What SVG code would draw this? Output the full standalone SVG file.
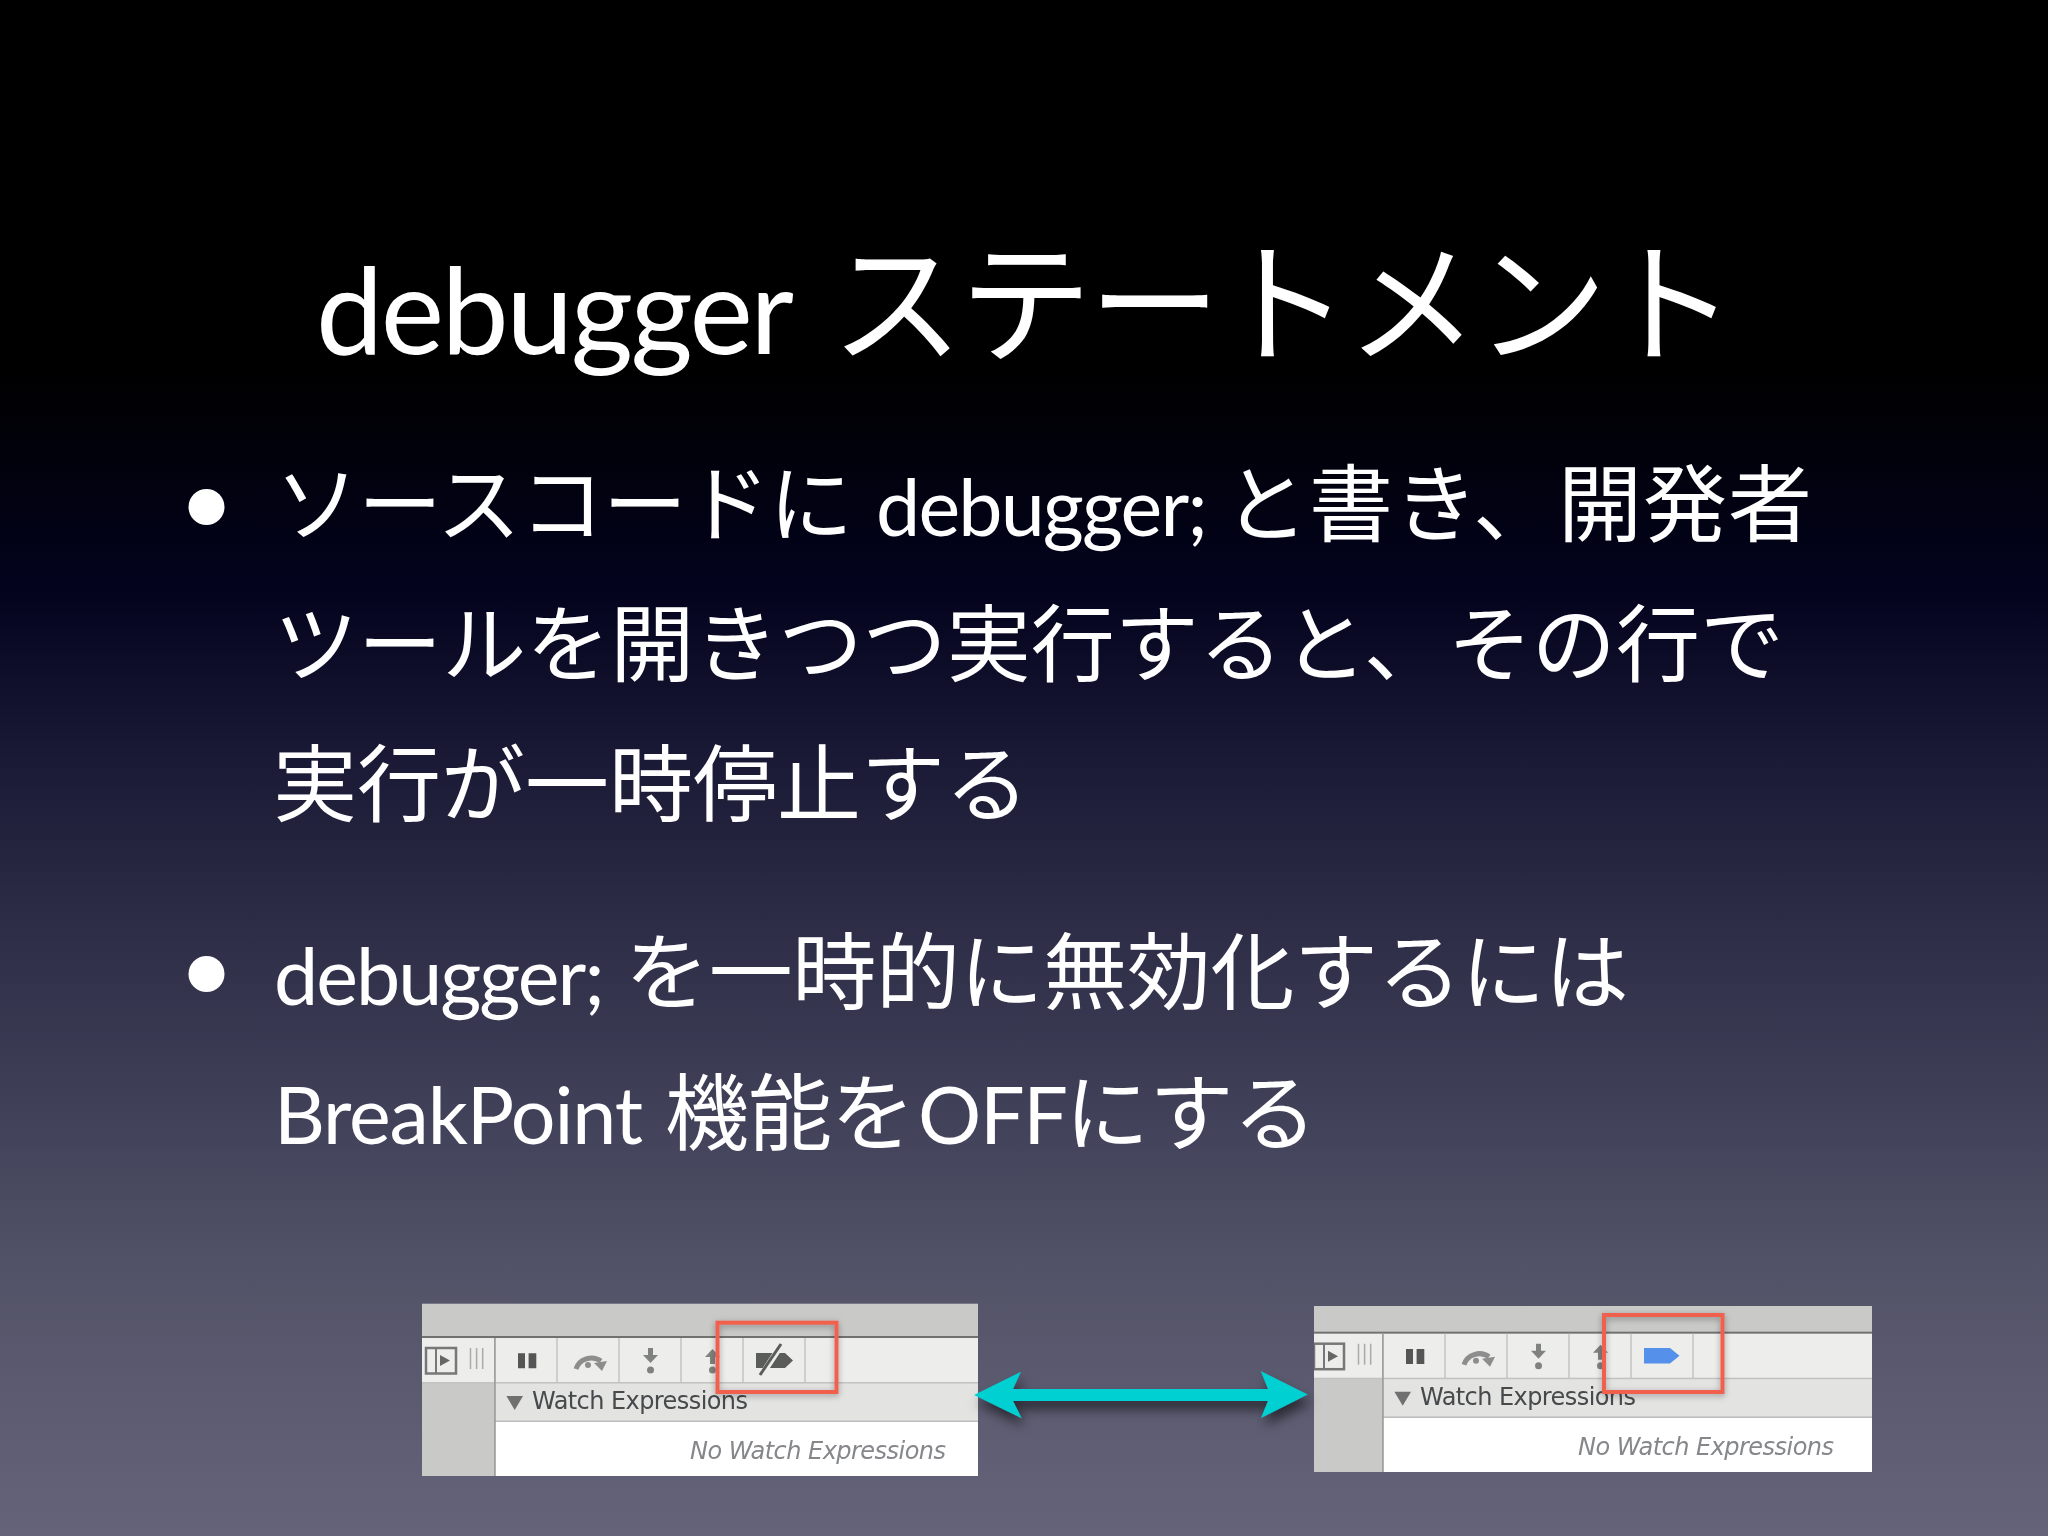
<svg xmlns="http://www.w3.org/2000/svg" width="2048" height="1536" viewBox="0 0 2048 1536">
<style>
.t{fill:#fff;font-family:"Lato","Noto Sans CJK JP",sans-serif;font-size:79px}
.j{font-family:"Noto Sans CJK JP","Lato",sans-serif;font-size:84px}
.ti{font-size:120px}
.tj{font-size:132px}
.ui{font-family:"DejaVu Sans",sans-serif;font-size:24px;fill:#46494c}
.no{font-style:italic;fill:#85878a}
.sep{stroke:#c4c4c4;stroke-width:1.5}
.ico{fill:#808280}
.red{fill:none;stroke:#f0614e;stroke-width:4;filter:url(#sh)}
</style>
<defs>
<linearGradient id="bg" gradientUnits="userSpaceOnUse" x1="0" y1="0" x2="0" y2="1536">
<stop offset="0" stop-color="#000"/><stop offset=".24" stop-color="#000"/><stop offset=".384" stop-color="#03031e"/><stop offset=".495" stop-color="#1a1a36"/><stop offset=".586" stop-color="#2a2a44"/><stop offset=".716" stop-color="#3f3f58"/><stop offset=".846" stop-color="#55556a"/><stop offset="1" stop-color="#656379"/>
</linearGradient>
<filter id="b" x="-5%" y="-5%" width="110%" height="110%"><feGaussianBlur stdDeviation=".6"/></filter>
<filter id="sh" x="-30%" y="-30%" width="160%" height="170%"><feDropShadow dx="0" dy="2" stdDeviation="3" flood-color="#000" flood-opacity=".35"/></filter>
<filter id="ash" x="-10%" y="-60%" width="120%" height="240%"><feDropShadow dx="3" dy="8" stdDeviation="6" flood-color="#000" flood-opacity=".55"/></filter>
<g id="tools">
<path class="sep" d="M557 1338V1383M619 1338V1383M681 1338V1383M743 1338V1383M805 1338V1383"/>
<rect x="426" y="1348" width="30" height="25.500" fill="none" stroke="#777" stroke-width="2.500"/><path d="M436 1348V1373" stroke="#777" stroke-width="2"/>
<path d="M440 1355L450 1360.500L440 1366Z" fill="#666"/>
<path d="M470.500 1348V1369M476.600 1348V1369M482.700 1348V1369" stroke="#aaa" stroke-width="1.500"/>
<path d="M518 1353.300h7v15h-7zM528.600 1353.300h7.700v15h-7.700z" fill="#555"/>
<path d="M576 1369a16 15 0 0 1 25 -8" fill="none" stroke="#8d8d8d" stroke-width="5"/><path d="M607 1361l-5 10l-8 -8z" fill="#8d8d8d"/><circle cx="588" cy="1365" r="3" fill="#8d8d8d"/>
<path d="M648 1348h5v7h5l-7.500 8l-7.500 -8h5z" class="ico"/><circle cx="650.500" cy="1370" r="3.500" class="ico"/>
<path d="M710 1364h5v-7h5l-7.500 -8l-7.500 8h5z" class="ico"/><circle cx="712.500" cy="1370" r="3.500" class="ico"/>
<path d="M506.400 1396H523L514.700 1410Z" fill="#6f6f6f"/>
</g>
</defs>
<rect width="2048" height="1536" fill="url(#bg)"/>

<g id="title"><text class="t ti" x="316" y="354" textLength="478">debugger</text><text class="t j tj" x="831" y="352" textLength="905">ステートメント</text></g>

<g id="bullet1"><circle cx="206.500" cy="507" r="18" fill="#fff"/>
<text class="t j" x="275" y="535" textLength="578">ソースコードに</text><text class="t" x="876" y="536" textLength="332">debugger;</text><text class="t j" x="1224" y="535" textLength="588">と書き、開発者</text>
<text class="t j" x="274" y="675" textLength="1510">ツールを開きつつ実行すると、その行で</text>
<text class="t j" x="273" y="815" textLength="756">実行が一時停止する</text></g>

<g id="bullet2"><circle cx="206.500" cy="974" r="18" fill="#fff"/>
<text class="t" x="274" y="1005" textLength="331">debugger;</text><text class="t j" x="625" y="1003" textLength="1004">を一時的に無効化するには</text>
<text class="t" x="274" y="1144" textLength="369">BreakPoint</text><text class="t j" x="665" y="1144" textLength="250">機能を</text><text class="t" x="918" y="1144" textLength="150">OFF</text><text class="t j" x="1065" y="1144" textLength="252">にする</text></g>

<g id="shot-off" filter="url(#b)">
<rect x="422" y="1303.700" width="556" height="172.300" fill="#c9c9c7"/>
<rect x="422" y="1336" width="556" height="2.200" fill="#6f716f"/>
<rect x="422" y="1338" width="556" height="45" fill="#ededec"/>
<rect x="495" y="1383" width="483" height="38" fill="#e3e3e2"/>
<rect x="495" y="1422" width="483" height="54" fill="#fff"/>
<rect x="422" y="1382" width="556" height="1.500" fill="#c2c2c2"/>
<rect x="495" y="1420.500" width="483" height="1.500" fill="#bdbdbd"/>
<rect x="494" y="1338" width="1.800" height="138" fill="#a0a0a0"/>
<use href="#tools"/>
<path d="M756 1353h21l2 0h6l8 7.500l-8 7.500h-29z" fill="#5a5c5a"/><path d="M761 1376L782 1344" stroke="#ededec" stroke-width="6"/><path d="M760 1375L781 1344" stroke="#5a5c5a" stroke-width="3"/>
<text class="ui" x="532" y="1409.300" textLength="216">Watch Expressions</text>
<text class="ui no" x="690" y="1459.300" textLength="256">No Watch Expressions</text>
</g>
<rect id="box-off" class="red" x="717.500" y="1322.700" width="119" height="69.300"/>

<g id="shot-on" filter="url(#b)">
<rect x="1314" y="1306" width="558" height="166" fill="#c9c9c7"/>
<rect x="1314" y="1331.700" width="558" height="2.200" fill="#6f716f"/>
<rect x="1314" y="1333.700" width="558" height="45" fill="#ededec"/>
<rect x="1383" y="1378.700" width="489" height="38" fill="#e3e3e2"/>
<rect x="1383" y="1418" width="489" height="54" fill="#fff"/>
<rect x="1314" y="1377.700" width="558" height="1.500" fill="#c2c2c2"/>
<rect x="1383" y="1416.500" width="489" height="1.500" fill="#bdbdbd"/>
<rect x="1382" y="1333.700" width="1.800" height="138.300" fill="#a0a0a0"/>
<svg x="1314" y="1306" width="558" height="166" viewBox="1314 1306 558 166"><use href="#tools" transform="translate(888,-4.300)"/></svg>
<path d="M1644 1348h26l9.500 7.700l-9.500 7.700h-26z" fill="#5590ea"/>
<text class="ui" x="1420" y="1405.300" textLength="216">Watch Expressions</text>
<text class="ui no" x="1578" y="1455.300" textLength="256">No Watch Expressions</text>
</g>
<rect id="box-on" class="red" x="1604" y="1315" width="118.500" height="77"/>

<g id="connectors"><path id="arrow" filter="url(#ash)" fill="#00d0d2" d="M974 1395L1021 1371.700L1013 1389H1268L1260.700 1371L1307.700 1394.500L1261 1418L1268 1401H1013L1021.700 1418.300Z"/></g>
</svg>
